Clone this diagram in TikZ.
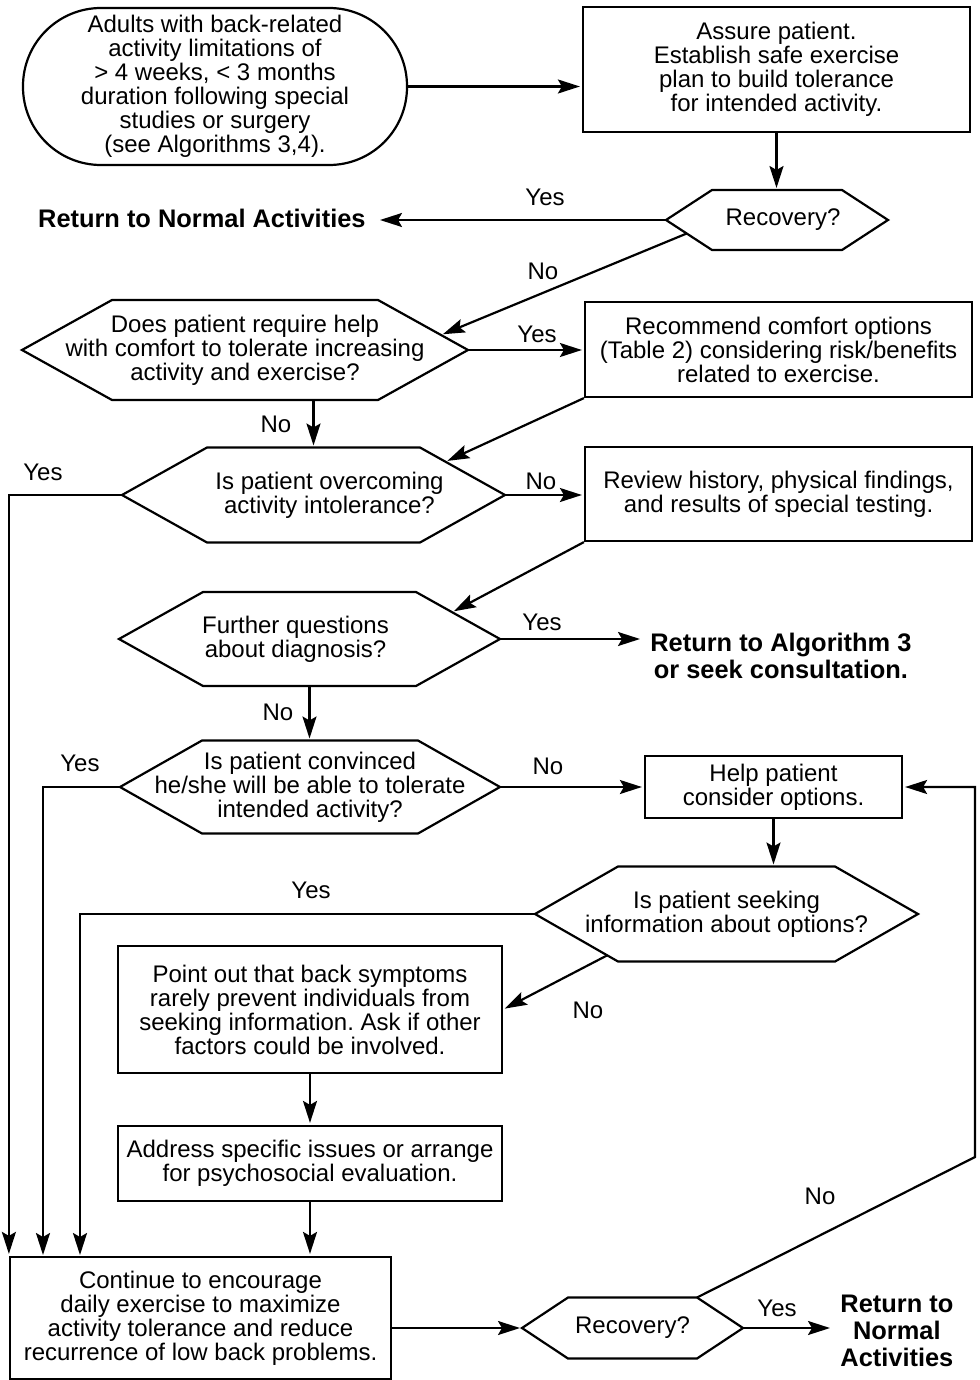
\documentclass[tikz,border=0pt]{standalone}
\usepackage{fontspec}
\setmainfont{Liberation Sans}
\usetikzlibrary{arrows.meta,calc}
\frenchspacing
\tikzset{
  x=0.5pt, y=-0.5pt,
  every node/.style={font=\fontsize{12}{12}\selectfont},
  shapeline/.style={line width=1.1pt, line join=miter},
  boxnode/.style={draw, line width=1.1pt, rectangle, align=center, inner sep=0pt},
  hexbase/.style={rectangle, align=center, inner sep=0pt, outer sep=0pt},
  conn/.style={line width=1.1pt, -{Stealth[length=11pt,width=7pt,inset=2pt]}, shorten >=1pt},
  lbl/.style={inner sep=0pt},
  boldtxt/.style={font=\fontsize{12.7}{13.4}\selectfont\bfseries, align=center, inner sep=0pt}
}
\newcommand\boxat[6]{%
  \node[boxnode, minimum width={#4*0.5pt}, minimum height={#5*0.5pt}] (#1) at (#2,#3) {#6};}
\newcommand\hexat[7]{%
  \node[hexbase, minimum width={#4*0.5pt}, minimum height={#5*0.5pt}] (#1) at (#2,#3) {#7};
  \coordinate (#1-nw) at ([xshift={#6*0.5pt}]#1.north west);
  \coordinate (#1-ne) at ([xshift={-#6*0.5pt}]#1.north east);
  \coordinate (#1-sw) at ([xshift={#6*0.5pt}]#1.south west);
  \coordinate (#1-se) at ([xshift={-#6*0.5pt}]#1.south east);
  \draw[shapeline] (#1.west) -- (#1-nw) -- (#1-ne) -- (#1.east) -- (#1-se) -- (#1-sw) -- cycle;}
\begin{document}
\begin{tikzpicture}
\useasboundingbox (0,0) rectangle (979,1380);

% start
\node[draw, line width=1.1pt, rounded corners=39pt, minimum width=192pt, minimum height=78.5pt,
      align=center, inner sep=0pt] (start) at (215,86.5)
  {Adults with back-related\\activity limitations of\\> 4 weeks, < 3 months\\duration following special\\studies or surgery\\(see Algorithms 3,4).};

\boxat{box1}{776.5}{69.5}{387}{125}{Assure patient.\\Establish safe exercise\\plan to build tolerance\\for intended activity.}
\hexat{rec1}{777}{220}{222}{60}{46}{\hspace*{6pt}Recovery?}
\node[boldtxt, anchor=east, inner xsep=6pt] (ret1) at (378,218) {Return to Normal Activities};

\hexat{hex2}{245}{350}{446}{100}{90}{Does patient require help\\with comfort to tolerate increasing\\activity and exercise?}
\boxat{box2}{778.5}{349.5}{387}{95}{Recommend comfort options\\(Table 2) considering risk/benefits\\related to exercise.}

\hexat{hex3}{313.5}{495}{383}{95}{85}{\hspace*{16pt}Is patient overcoming\\\hspace*{16pt}activity intolerance?}
\boxat{box3}{778.5}{494}{387}{94}{Review history, physical findings,\\and results of special testing.}

\hexat{hex4}{309.5}{639}{381}{94}{84}{Further questions\hspace*{14pt}\\about diagnosis?\hspace*{14pt}}
\node[boldtxt, anchor=west, inner xsep=4pt] (ret3) at (642,656) {Return to Algorithm 3\\or seek consultation.};

\hexat{hex5}{310}{787}{380}{93}{82}{Is patient convinced\\he/she will be able to tolerate\\intended activity?}
\boxat{box4}{773.5}{787}{257}{62}{Help patient\\consider options.}

\hexat{hex6}{726.5}{914}{383}{95}{83}{Is patient seeking\\information about options?}
\boxat{box5}{310}{1009.5}{384}{127}{Point out that back symptoms\\rarely prevent individuals from\\seeking information. Ask if other\\factors could be involved.}
\boxat{box6}{310}{1163.5}{384}{75}{Address specific issues or arrange\\for psychosocial evaluation.}

\boxat{final}{200.5}{1318}{381}{122}{Continue to encourage\\daily exercise to maximize\\activity tolerance and reduce\\recurrence of low back problems.}
\hexat{rec2}{632.5}{1328}{221}{61}{46}{Recovery?}
\node[boldtxt, anchor=west, inner xsep=4pt] (ret2) at (832,1331) {Return to\\Normal\\Activities};

% helper coordinates
\coordinate (f2) at (43,1257);
\coordinate (f3) at (80,1257);
\coordinate (c1) at (975,1157);

% connectors
\draw[conn] (start.east) -- (start.east -| box1.west);
\draw[conn] (box1.south) -- (box1.south |- rec1.north);
\draw[conn] (rec1.west) -- (rec1.west -| ret1.east);
\draw[conn] ($(rec1.west)!0.45!(rec1-sw)$) -- ($(hex2.east)!0.3!(hex2-ne)$);
\draw[conn] (hex2.east) -- (hex2.east -| box2.west);
\draw[conn] (hex3.north |- hex2.south) -- (hex3.north);
\draw[conn] (box2.south west) -- ($(hex3.east)!0.7!(hex3-ne)$);
\draw[conn] (hex3.east) -- (hex3.east -| box3.west);
\draw[conn] (hex3.west) -| (final.north west);
\draw[conn] (box3.south west) -- ($(hex4.east)!0.57!(hex4-ne)$);
\draw[conn] (hex4.east) -- (hex4.east -| ret3.west);
\draw[conn] (hex4.south) -- (hex4.south |- hex5.north);
\draw[conn] (hex5.west) -| (f2);
\draw[conn] (hex5.east) -- (hex5.east -| box4.west);
\draw[conn] (box4.south) -- (box4.south |- hex6.north);
\draw[conn] (hex6.west) -| (f3);
\draw[conn] ($(hex6.west)!0.87!(hex6-sw)$) -- (box5.east);
\draw[conn] (box5.south) -- (box5.south |- box6.north);
\draw[conn] (box6.south) -- (box6.south |- final.north);
\draw[conn] (rec2.west -| final.east) -- (rec2.west);
\draw[conn] (rec2.east) -- (rec2.east -| ret2.west);
\draw[conn] (rec2-ne) -- (c1) |- (box4.east);

% labels
\node[lbl] (l1) at (545,197) {Yes};
\node[lbl] (l2) at (543,271) {No};
\node[lbl] (l3) at (537,334) {Yes};
\node[lbl] (l4) at (276,424) {No};
\node[lbl] (l5) at (43,472) {Yes};
\node[lbl] (l6) at (541,481) {No};
\node[lbl] (l7) at (542,622) {Yes};
\node[lbl] (l8) at (278,712) {No};
\node[lbl] (l9) at (80,763) {Yes};
\node[lbl] (l10) at (548,766) {No};
\node[lbl] (l11) at (311,890) {Yes};
\node[lbl] (l12) at (588,1010) {No};
\node[lbl] (l13) at (820,1196) {No};
\node[lbl] (l14) at (777,1308) {Yes};
\end{tikzpicture}
\end{document}
